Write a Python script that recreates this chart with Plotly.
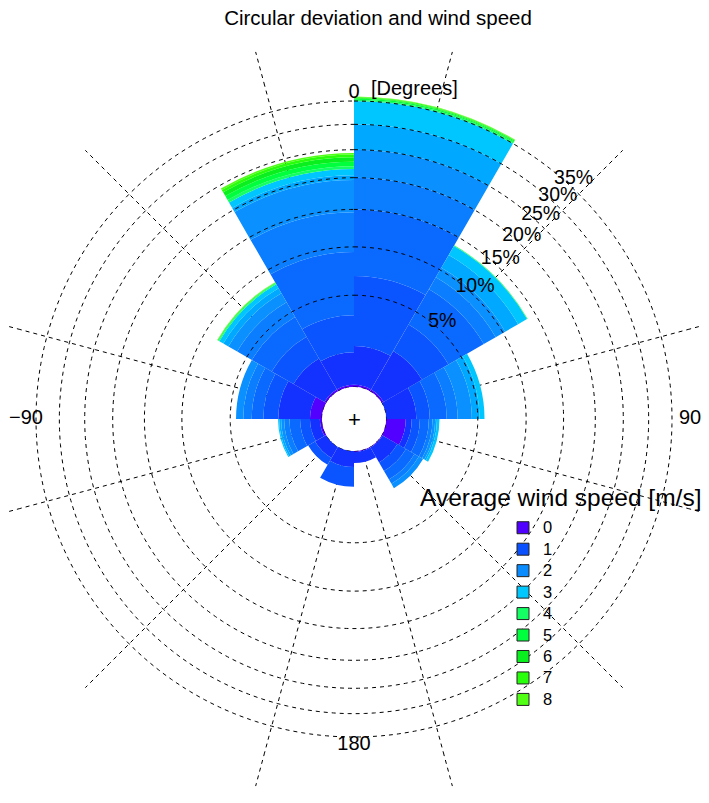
import numpy as np
import plotly.graph_objects as go

# sector centres (degrees, clockwise from north), 30 degree sectors
sector_centres = [15, 45, 75, 105, 135, 165, 195, 225, 255, 285, 315, 345]

# wind speed bands used to colour the sectors (m/s)
band_speeds = ["0", "0.5", "1", "1.5", "2", "2.5", "3", "3.5", "4", "5", "6", "7", "8"]
band_colours = ["#5200FF", "#1432FF", "#0A55FF", "#0A6AFF", "#0A7EFF", "#0A91FF",
                "#00A8FF", "#00C6FF", "#14FF64", "#00FF3C", "#0AF01E", "#28FF0A", "#50FF14"]

# frequency (%) of each band in each sector
f_0 = [0.05, 0.05, 0.0, 0.58, 0.02, 0.02, 0.0, 0.0, 0.05, 0.32, 0.05, 0.05]
f_05 = [1.45, 1.75, 1.0, 0.23, 0.5, 0.3, 0.45, 0.35, 0.27, 1.33, 1.3, 1.15]
f_1 = [5.3, 2.0, 0.65, 0.35, 0.38, 0.0, 0.8, 0.27, 0.34, 0.87, 1.45, 2.2]
f_15 = [8.2, 3.7, 1.0, 0.44, 0.45, 0.0, 0.0, 0.0, 0.44, 0.78, 1.7, 6.0]
f_2 = [5.0, 1.5, 0.75, 0.2, 0.25, 0.0, 0.0, 0.0, 0.25, 0.63, 1.5, 5.2]
f_25 = [5.0, 1.3, 1.1, 0.15, 0.27, 0.0, 0.0, 0.0, 0.15, 0.58, 1.0, 5.0]
f_3 = [5.0, 1.9, 0.65, 0.1, 0.0, 0.0, 0.0, 0.0, 0.1, 0.0, 0.6, 0.8]
f_35 = [5.0, 1.4, 0.45, 0.15, 0.0, 0.0, 0.0, 0.0, 0.06, 0.0, 0.5, 1.1]
f_4 = [0.3, 0.05, 0.0, 0.0, 0.0, 0.0, 0.0, 0.0, 0.0, 0.0, 0.1, 0.5]
f_5 = [0.25, 0.05, 0.0, 0.0, 0.0, 0.0, 0.0, 0.0, 0.0, 0.0, 0.05, 0.8]
f_6 = [0.2, 0.0, 0.0, 0.0, 0.0, 0.0, 0.0, 0.0, 0.0, 0.0, 0.05, 0.8]
f_7 = [0.15, 0.0, 0.0, 0.0, 0.0, 0.0, 0.0, 0.0, 0.0, 0.0, 0.03, 0.5]
f_8 = [0.1, 0.0, 0.0, 0.0, 0.0, 0.0, 0.0, 0.0, 0.0, 0.0, 0.04, 0.3]
band_freqs = [f_0, f_05, f_1, f_15, f_2, f_25, f_3, f_35, f_4, f_5, f_6, f_7, f_8]

# legend classes
legend_speeds = ["0", "1", "2", "3", "4", "5", "6", "7", "8"]
legend_colours = ["#5000FF", "#0A50FF", "#0A8CFF", "#00C8FF", "#14FF64",
                  "#00FF3C", "#0AF01E", "#28FF0A", "#50FF14"]

grid_pcts = [5, 10, 15, 20, 25, 30, 35]
angle_ticks = [0, 90, 180, 270]
angle_text = ["0", "90", "180", "\u221290"]

# the page puts the figure 8px in from the top-left corner of the window,
# so the figure is 8px smaller and positions below are given in window pixels
OFF = 8
W, H = 709 - OFF, 803 - OFF
CX, CY = 354.0, 419.0          # centre, window pixels
R_OUT = CX - OFF               # largest radius that fits the width
HOLE = 32.0
K = 2860.0                     # area scaling: r^2 = hole^2 + K * percent


def to_r(p):
    return np.sqrt(HOLE ** 2 + K * np.asarray(p, dtype=float))


def px(x, y):
    return (x - OFF) / W, 1 - (y - OFF) / H


FONT = "Liberation Sans, Arial, sans-serif"
DASH = "4px,4px"

fig = go.Figure()

cum = np.zeros(len(sector_centres))
for speed, col, freq in zip(band_speeds, band_colours, band_freqs):
    lo = to_r(cum)
    cum = cum + np.array(freq)
    hi = to_r(cum)
    fig.add_trace(go.Barpolar(
        theta=sector_centres, r=hi - lo, base=lo, width=[30] * len(sector_centres),
        marker=dict(color=col, line=dict(width=0)),
        name=speed, showlegend=False, hoverinfo="skip"))

# legend entries
for speed, col in zip(legend_speeds, legend_colours):
    fig.add_trace(go.Barpolar(
        theta=[None], r=[None], name=f'<span style="font-size:16.5px">{speed}</span>',
        marker=dict(color=col, line=dict(color="#222222", width=1))))

# percentage circles drawn over the sectors
ring_theta = np.arange(0, 361, 1)
for p in [0] + grid_pcts:
    fig.add_trace(go.Scatterpolar(
        theta=ring_theta, r=np.full(ring_theta.shape, float(to_r(p))), mode="lines",
        line=dict(color="black", width=1, dash=DASH), showlegend=False, hoverinfo="skip"))

# percentage labels, just outside their circle
fig.add_trace(go.Scatterpolar(
    theta=[42.5] * len(grid_pcts), r=to_r(grid_pcts) + 7, mode="text",
    text=[f"{p}%" for p in grid_pcts], textposition="middle center",
    textfont=dict(family=FONT, size=19.5, color="black"), showlegend=False, hoverinfo="skip"))

# direction labels
fig.add_trace(go.Scatterpolar(
    theta=angle_ticks, r=[326, 336, 326, 328], mode="text", text=angle_text,
    textposition="middle center",
    textfont=dict(family=FONT, size=20, color="black"), showlegend=False, hoverinfo="skip"))

# extend the radial grid lines past the polar frame
shapes = []
for a in sector_centres:
    t = np.deg2rad(a)
    x0, y0 = px(CX + (R_OUT - 1) * np.sin(t), CY - (R_OUT - 1) * np.cos(t))
    x1, y1 = px(CX + 380 * np.sin(t), CY - 380 * np.cos(t))
    shapes.append(dict(type="line", xref="paper", yref="paper",
                       x0=x0, y0=y0, x1=x1, y1=y1,
                       line=dict(color="black", width=1, dash=DASH), layer="below"))

cxp, cyp = px(CX, CY)
title_x, title_y = px(378, 18)
deg_x, deg_y = px(369, 88)
leg_x, leg_y = px(503, 512)
lt_x, lt_y = px(418, 497)

fig.update_layout(
    width=W, height=H,
    margin=dict(l=0, r=0, t=0, b=0),
    paper_bgcolor="white",
    font=dict(family=FONT, color="black"),
    title=dict(text="Circular deviation and wind speed", x=title_x, xanchor="center",
               y=title_y, yanchor="middle", font=dict(family=FONT, size=20.5)),
    polar=dict(
        domain=dict(x=[0, 2 * R_OUT / W], y=[cyp - 350 / H, cyp + 350 / H]),
        bgcolor="white", hole=HOLE / R_OUT, barmode="overlay",
        angularaxis=dict(rotation=90, direction="clockwise",
                         tickmode="array", tickvals=sector_centres,
                         showticklabels=False, ticks="", showline=False,
                         showgrid=True, gridcolor="black", gridwidth=1, griddash=DASH),
        radialaxis=dict(range=[HOLE, R_OUT], showgrid=False, showline=False,
                        showticklabels=False, ticks=""),
    ),
    shapes=shapes,
    legend=dict(x=leg_x, y=leg_y, xanchor="left", yanchor="top",
                font=dict(family=FONT, size=14.2), bgcolor="rgba(0,0,0,0)",
                tracegroupgap=0),
    annotations=[
        dict(text="[Degrees]", x=deg_x, y=deg_y, xref="paper", yref="paper",
             xanchor="left", yanchor="middle", showarrow=False,
             font=dict(family=FONT, size=20)),
        dict(text="+", x=cxp, y=cyp, xref="paper", yref="paper",
             xanchor="center", yanchor="middle", showarrow=False,
             font=dict(family=FONT, size=22)),
        dict(text="Average wind speed [m/s]", x=lt_x, y=lt_y,
             xref="paper", yref="paper", xanchor="left", yanchor="middle",
             showarrow=False, font=dict(family=FONT, size=24.5)),
    ],
)

fig.write_html("out.html")
